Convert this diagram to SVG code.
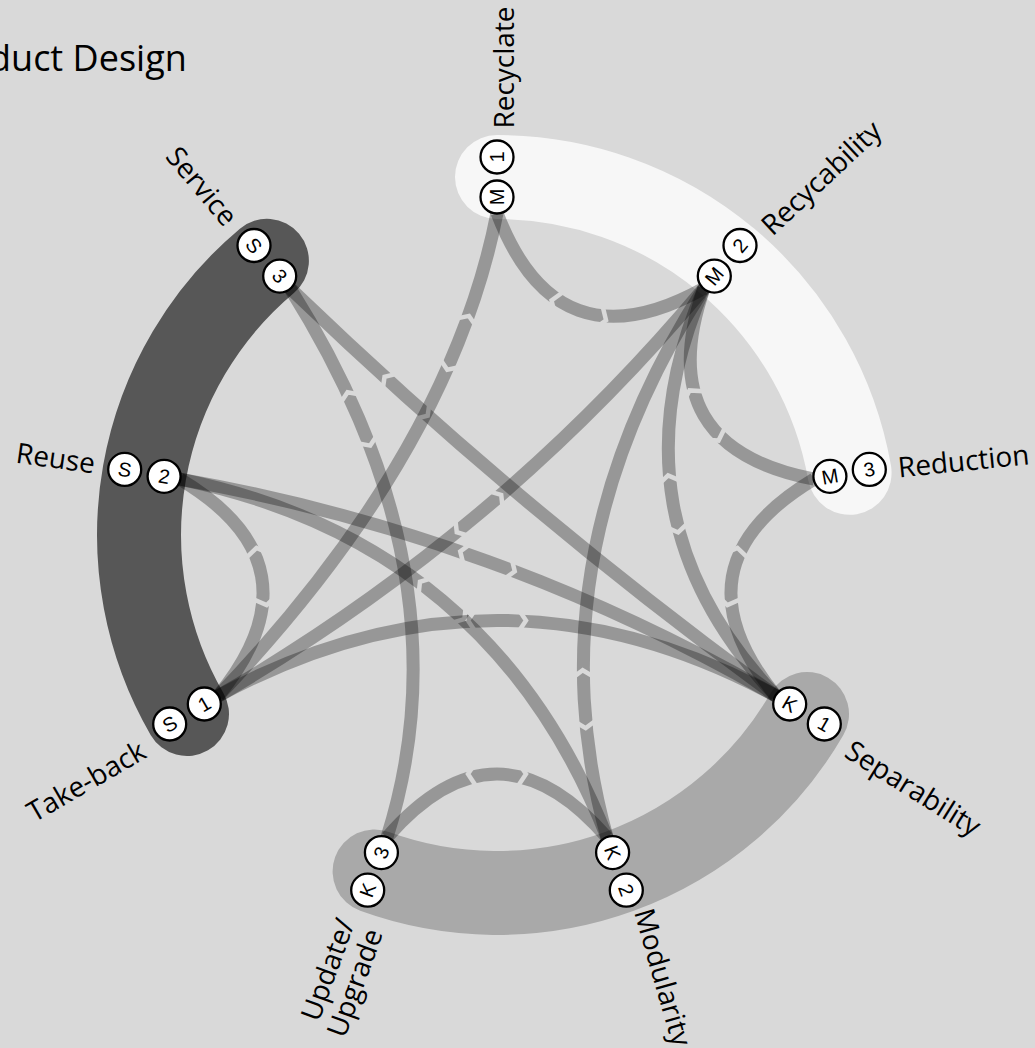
<svg xmlns="http://www.w3.org/2000/svg" xmlns:xlink="http://www.w3.org/1999/xlink" width="1035" height="1048" viewBox="0 0 1035 1048">
<style>
.band{fill:none;stroke-width:84;stroke-linecap:round}
.cn{fill:none;stroke:#000;stroke-opacity:.3;stroke-width:13}
.mw{fill:none;stroke:#fff;stroke-width:26;marker-mid:url(#gap)}
.nc{fill:#fff;stroke:#000;stroke-width:2.3}
.nt{font-family:"Liberation Sans",Arial,sans-serif;font-size:20px;fill:#000;text-anchor:middle;dominant-baseline:central}
.lb{font-family:"Open Sans","Noto Sans",sans-serif;font-size:28px;fill:#000}
</style>
<defs>
<marker id="gap" markerUnits="userSpaceOnUse" orient="auto" markerWidth="100" markerHeight="40" refX="50" refY="20" viewBox="0 0 100 40" overflow="visible">
<path d="M29,8 L21,20 L29,32 M71,8 L79,20 L71,32" fill="none" stroke="#000" stroke-width="4.5" stroke-linejoin="miter"/>
</marker>
<path id="p1" d="M497,213 Q527,291.6 578.8,310.4 Q630.5,329.2 704,288.3"/>
<path id="p2" d="M704,288.3 Q676.5,367.8 704,415.5 Q731.6,463.2 814.1,479.1"/>
<path id="p3" d="M814.1,479.1 Q742,522.3 732.4,576.5 Q722.9,630.8 775.9,696"/>
<path id="p4" d="M386.9,837.6 Q442,774.1 497,774.1 Q552.1,774.1 607.1,837.6"/>
<path id="p5" d="M179.9,479.1 Q252.1,522.3 261.6,576.5 Q271.2,630.8 218.1,696"/>
<path id="p6" d="M218.1,696 Q357.6,620.4 497,620.4 Q636.5,620.4 775.9,696"/>
<path id="p7" d="M497,213 Q484.3,277.8 458.1,342.8 Q387.4,518.6 218.1,696"/>
<path id="p8" d="M704,288.3 Q600.5,411.7 479,513.6 Q357.6,615.5 218.1,696"/>
<path id="p9" d="M704,288.3 Q655.2,402 673.1,503.9 Q691.1,605.9 775.9,696"/>
<path id="p10" d="M179.9,479.1 Q338.5,507.1 487.5,561.3 Q636.5,615.5 775.9,696"/>
<path id="p11" d="M179.9,479.1 Q335.4,510.8 442.2,600.4 Q549,690 607.1,837.6"/>
<path id="p12" d="M704,288.3 Q573.5,492.1 584.2,699.2 Q587.8,768.2 607.1,837.6"/>
<path id="p13" d="M290,288.3 Q331.4,354.2 358.9,418.9 Q450.9,635.4 386.9,837.6"/>
<path id="p14" d="M290,288.3 Q347.2,343.3 406.1,396.3 Q582.9,555.2 775.9,696"/>
<mask id="m1" maskUnits="userSpaceOnUse" x="0" y="0" width="1035" height="1048"><use href="#p1" class="mw"/></mask>
<mask id="m2" maskUnits="userSpaceOnUse" x="0" y="0" width="1035" height="1048"><use href="#p2" class="mw"/></mask>
<mask id="m3" maskUnits="userSpaceOnUse" x="0" y="0" width="1035" height="1048"><use href="#p3" class="mw"/></mask>
<mask id="m4" maskUnits="userSpaceOnUse" x="0" y="0" width="1035" height="1048"><use href="#p4" class="mw"/></mask>
<mask id="m5" maskUnits="userSpaceOnUse" x="0" y="0" width="1035" height="1048"><use href="#p5" class="mw"/></mask>
<mask id="m6" maskUnits="userSpaceOnUse" x="0" y="0" width="1035" height="1048"><use href="#p6" class="mw"/></mask>
<mask id="m7" maskUnits="userSpaceOnUse" x="0" y="0" width="1035" height="1048"><use href="#p7" class="mw"/></mask>
<mask id="m8" maskUnits="userSpaceOnUse" x="0" y="0" width="1035" height="1048"><use href="#p8" class="mw"/></mask>
<mask id="m9" maskUnits="userSpaceOnUse" x="0" y="0" width="1035" height="1048"><use href="#p9" class="mw"/></mask>
<mask id="m10" maskUnits="userSpaceOnUse" x="0" y="0" width="1035" height="1048"><use href="#p10" class="mw"/></mask>
<mask id="m11" maskUnits="userSpaceOnUse" x="0" y="0" width="1035" height="1048"><use href="#p11" class="mw"/></mask>
<mask id="m12" maskUnits="userSpaceOnUse" x="0" y="0" width="1035" height="1048"><use href="#p12" class="mw"/></mask>
<mask id="m13" maskUnits="userSpaceOnUse" x="0" y="0" width="1035" height="1048"><use href="#p13" class="mw"/></mask>
<mask id="m14" maskUnits="userSpaceOnUse" x="0" y="0" width="1035" height="1048"><use href="#p14" class="mw"/></mask>
</defs>
<rect width="1035" height="1048" fill="#d9d9d9"/>
<text x="-69" y="71" font-family="'Open Sans','Noto Sans',sans-serif" font-size="36" fill="#000">Product Design</text>
<g id="bands">
<path id="band-m" class="band" stroke="#f7f7f7" d="M497,177 A358,358 0 0 1 849.6,472.8"/>
<path id="band-k" class="band" stroke="#a9a9a9" d="M807,714 A358,358 0 0 1 374.6,871.4"/>
<path id="band-s" class="band" stroke="#575757" d="M187,714 A358,358 0 0 1 266.9,260.8"/>
</g>
<g id="connectors">
<use href="#p1" class="cn" mask="url(#m1)"/>
<use href="#p2" class="cn" mask="url(#m2)"/>
<use href="#p3" class="cn" mask="url(#m3)"/>
<use href="#p4" class="cn" mask="url(#m4)"/>
<use href="#p5" class="cn" mask="url(#m5)"/>
<use href="#p6" class="cn" mask="url(#m6)"/>
<use href="#p7" class="cn" mask="url(#m7)"/>
<use href="#p8" class="cn" mask="url(#m8)"/>
<use href="#p9" class="cn" mask="url(#m9)"/>
<use href="#p10" class="cn" mask="url(#m10)"/>
<use href="#p11" class="cn" mask="url(#m11)"/>
<use href="#p12" class="cn" mask="url(#m12)"/>
<use href="#p13" class="cn" mask="url(#m13)"/>
<use href="#p14" class="cn" mask="url(#m14)"/>
</g>
<g id="node-M1"><circle class="nc" cx="497" cy="197" r="16.5"/><text class="nt" transform="translate(497,197) rotate(-90)">M</text><circle class="nc" cx="497" cy="157" r="16.5"/><text class="nt" transform="translate(497,157) rotate(-90)">1</text><text class="lb" text-anchor="middle" transform="translate(514,67.5) rotate(-90)">Recyclate</text></g>
<g id="node-M2"><circle class="nc" cx="714.3" cy="276.1" r="16.5"/><text class="nt" transform="translate(714.3,276.1) rotate(-50)">M</text><circle class="nc" cx="740" cy="245.5" r="16.5"/><text class="nt" transform="translate(740,245.5) rotate(-50)">2</text><text class="lb" text-anchor="middle" transform="translate(828,185) rotate(-43)">Recycability</text></g>
<g id="node-M3"><circle class="nc" cx="829.9" cy="476.3" r="16.5"/><text class="nt" transform="translate(829.9,476.3) rotate(-10)">M</text><circle class="nc" cx="869.3" cy="469.4" r="16.5"/><text class="nt" transform="translate(869.3,469.4) rotate(-10)">3</text><text class="lb" text-anchor="middle" transform="translate(964.5,470.8) rotate(-5.75)">Reduction</text></g>
<g id="node-K1"><circle class="nc" cx="789.7" cy="704" r="16.5"/><text class="nt" transform="translate(789.7,704) rotate(30)">K</text><circle class="nc" cx="824.3" cy="724" r="16.5"/><text class="nt" transform="translate(824.3,724) rotate(30)">1</text><text class="lb" transform="translate(843,756) rotate(32)">Separability</text></g>
<g id="node-K2"><circle class="nc" cx="612.6" cy="852.6" r="16.5"/><text class="nt" transform="translate(612.6,852.6) rotate(70)">K</text><circle class="nc" cx="626.3" cy="890.2" r="16.5"/><text class="nt" transform="translate(626.3,890.2) rotate(70)">2</text><text class="lb" font-size="27" transform="translate(634,912) rotate(74)">Modularity</text></g>
<g id="node-K3"><circle class="nc" cx="381.4" cy="852.6" r="16.5"/><text class="nt" transform="translate(381.4,852.6) rotate(-70)">3</text><circle class="nc" cx="367.7" cy="890.2" r="16.5"/><text class="nt" transform="translate(367.7,890.2) rotate(-70)">K</text><text class="lb" text-anchor="end" transform="translate(355,923) rotate(-70)"><tspan x="0" y="0">Update/</tspan><tspan x="0" y="30">Upgrade</tspan></text></g>
<g id="node-S1"><circle class="nc" cx="204.3" cy="704" r="16.5"/><text class="nt" transform="translate(204.3,704) rotate(-30)">1</text><circle class="nc" cx="169.7" cy="724" r="16.5"/><text class="nt" transform="translate(169.7,724) rotate(-30)">S</text><text class="lb" text-anchor="end" transform="translate(148,757) rotate(-30)">Take-back</text></g>
<g id="node-S2"><circle class="nc" cx="164.1" cy="476.3" r="16.5"/><text class="nt" transform="translate(164.1,476.3) rotate(10)">2</text><circle class="nc" cx="124.7" cy="469.4" r="16.5"/><text class="nt" transform="translate(124.7,469.4) rotate(10)">S</text><text class="lb" text-anchor="end" transform="translate(93.5,473.5) rotate(8)">Reuse</text></g>
<g id="node-S3"><circle class="nc" cx="279.7" cy="276.1" r="16.5"/><text class="nt" transform="translate(279.7,276.1) rotate(50)">3</text><circle class="nc" cx="254" cy="245.5" r="16.5"/><text class="nt" transform="translate(254,245.5) rotate(50)">S</text><text class="lb" text-anchor="end" transform="translate(224,228) rotate(50)">Service</text></g>
</svg>
